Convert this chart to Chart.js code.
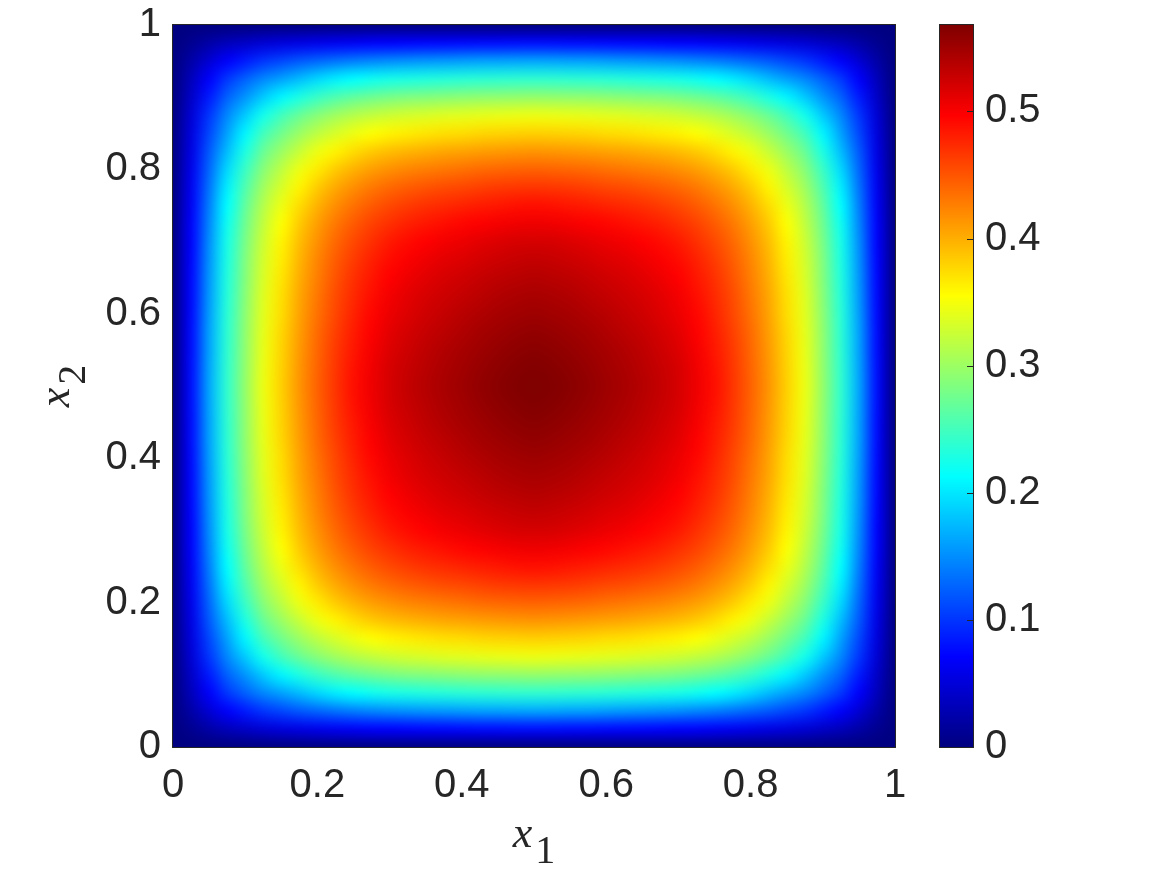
<!DOCTYPE html>
<html><head><meta charset="utf-8">
<script src="https://cdn.jsdelivr.net/npm/chart.js@4.4.1/dist/chart.umd.min.js"></script>
<style>html,body{margin:0;padding:0;background:#fff;overflow:hidden}#wrap{width:1167px;height:875px}</style>
</head><body><div id="wrap"><canvas id="c" width="1167" height="875"></canvas></div>
<script>
// grid coordinates (x1 columns, x2 rows)
const gridX = [0,.025,.05,.075,.1,.125,.15,.175,.2,.225,.25,.275,.3,.325,.35,.375,.4,.425,.45,.475,.5,.525,.55,.575,.6,.625,.65,.675,.7,.725,.75,.775,.8,.825,.85,.875,.9,.925,.95,.975,1];
const gridY = [0,.025,.05,.075,.1,.125,.15,.175,.2,.225,.25,.275,.3,.325,.35,.375,.4,.425,.45,.475,.5,.525,.55,.575,.6,.625,.65,.675,.7,.725,.75,.775,.8,.825,.85,.875,.9,.925,.95,.975,1];
// field values; values[j][i] at (gridX[i], gridY[j])
const values = [
[0,0,0,0,0,0,0,0,0,0,0,0,0,0,0,0,0,0,0,0,0,0,0,0,0,0,0,0,0,0,0,0,0,0,0,0,0,0,0,0,0],
[0,.010,.022,.033,.040,.047,.052,.056,.060,.063,.066,.069,.070,.072,.073,.074,.075,.076,.076,.077,.077,.077,.076,.076,.075,.074,.073,.072,.070,.069,.066,.063,.060,.056,.052,.047,.040,.033,.022,.010,0],
[0,.022,.047,.069,.085,.100,.110,.120,.128,.135,.141,.146,.150,.153,.155,.157,.159,.161,.162,.163,.164,.163,.162,.161,.159,.157,.155,.153,.150,.146,.141,.135,.128,.120,.110,.100,.085,.069,.047,.022,0],
[0,.033,.069,.101,.125,.146,.161,.176,.192,.204,.213,.220,.225,.228,.231,.233,.235,.237,.238,.239,.240,.239,.238,.237,.235,.233,.231,.228,.225,.220,.213,.204,.192,.176,.161,.146,.125,.101,.069,.033,0],
[0,.040,.085,.125,.154,.184,.208,.228,.245,.257,.267,.274,.280,.284,.286,.289,.291,.293,.294,.295,.296,.295,.294,.293,.291,.289,.286,.284,.280,.274,.267,.257,.245,.228,.208,.184,.154,.125,.085,.040,0],
[0,.047,.100,.146,.184,.223,.249,.271,.288,.302,.313,.321,.327,.331,.334,.337,.339,.341,.343,.344,.345,.344,.343,.341,.339,.337,.334,.331,.327,.321,.313,.302,.288,.271,.249,.223,.184,.146,.100,.047,0],
[0,.052,.110,.161,.208,.249,.276,.299,.318,.333,.345,.354,.361,.365,.369,.372,.374,.377,.379,.380,.381,.380,.379,.377,.374,.372,.369,.365,.361,.354,.345,.333,.318,.299,.276,.249,.208,.161,.110,.052,0],
[0,.056,.120,.176,.228,.271,.299,.324,.345,.361,.374,.384,.391,.396,.400,.404,.406,.409,.411,.413,.414,.413,.411,.409,.406,.404,.400,.396,.391,.384,.374,.361,.345,.324,.299,.271,.228,.176,.120,.056,0],
[0,.060,.128,.192,.245,.288,.318,.345,.366,.384,.398,.409,.417,.423,.427,.431,.434,.438,.440,.442,.443,.442,.440,.438,.434,.431,.427,.423,.417,.409,.398,.384,.366,.345,.318,.288,.245,.192,.128,.060,0],
[0,.063,.135,.204,.257,.302,.333,.361,.384,.403,.418,.430,.439,.446,.451,.455,.458,.462,.465,.467,.468,.467,.465,.462,.458,.455,.451,.446,.439,.430,.418,.403,.384,.361,.333,.302,.257,.204,.135,.063,0],
[0,.066,.141,.213,.267,.313,.345,.374,.398,.418,.434,.447,.457,.464,.470,.474,.478,.482,.485,.488,.489,.488,.485,.482,.478,.474,.470,.464,.457,.447,.434,.418,.398,.374,.345,.313,.267,.213,.141,.066,0],
[0,.069,.146,.220,.274,.321,.354,.384,.409,.430,.447,.461,.471,.479,.485,.490,.494,.498,.502,.505,.506,.505,.502,.498,.494,.490,.485,.479,.471,.461,.447,.430,.409,.384,.354,.321,.274,.220,.146,.069,0],
[0,.070,.150,.225,.280,.327,.361,.391,.417,.439,.457,.471,.483,.491,.497,.503,.507,.512,.516,.519,.520,.519,.516,.512,.507,.503,.497,.491,.483,.471,.457,.439,.417,.391,.361,.327,.280,.225,.150,.070,0],
[0,.072,.153,.228,.284,.331,.365,.396,.423,.446,.464,.479,.491,.499,.506,.512,.516,.521,.525,.528,.530,.528,.525,.521,.516,.512,.506,.499,.491,.479,.464,.446,.423,.396,.365,.331,.284,.228,.153,.072,0],
[0,.073,.155,.231,.286,.334,.369,.400,.427,.451,.470,.485,.497,.506,.513,.519,.524,.529,.533,.536,.538,.536,.533,.529,.524,.519,.513,.506,.497,.485,.470,.451,.427,.400,.369,.334,.286,.231,.155,.073,0],
[0,.074,.157,.233,.289,.337,.372,.404,.431,.455,.474,.490,.503,.512,.519,.525,.530,.535,.540,.543,.545,.543,.540,.535,.530,.525,.519,.512,.503,.490,.474,.455,.431,.404,.372,.337,.289,.233,.157,.074,0],
[0,.075,.159,.235,.291,.339,.374,.406,.434,.458,.478,.494,.507,.516,.524,.530,.536,.541,.546,.549,.551,.549,.546,.541,.536,.530,.524,.516,.507,.494,.478,.458,.434,.406,.374,.339,.291,.235,.159,.075,0],
[0,.076,.161,.237,.293,.341,.377,.409,.438,.462,.482,.498,.512,.521,.529,.535,.541,.547,.551,.555,.557,.555,.551,.547,.541,.535,.529,.521,.512,.498,.482,.462,.438,.409,.377,.341,.293,.237,.161,.076,0],
[0,.076,.162,.238,.294,.343,.379,.411,.440,.465,.485,.502,.516,.525,.533,.540,.546,.551,.556,.560,.562,.560,.556,.551,.546,.540,.533,.525,.516,.502,.485,.465,.440,.411,.379,.343,.294,.238,.162,.076,0],
[0,.077,.163,.239,.295,.344,.380,.413,.442,.467,.488,.505,.519,.528,.536,.543,.549,.555,.560,.564,.566,.564,.560,.555,.549,.543,.536,.528,.519,.505,.488,.467,.442,.413,.380,.344,.295,.239,.163,.077,0],
[0,.077,.164,.240,.296,.345,.381,.414,.443,.468,.489,.506,.520,.530,.538,.545,.551,.557,.562,.566,.568,.566,.562,.557,.551,.545,.538,.530,.520,.506,.489,.468,.443,.414,.381,.345,.296,.240,.164,.077,0],
[0,.077,.163,.239,.295,.344,.380,.413,.442,.467,.488,.505,.519,.528,.536,.543,.549,.555,.560,.564,.566,.564,.560,.555,.549,.543,.536,.528,.519,.505,.488,.467,.442,.413,.380,.344,.295,.239,.163,.077,0],
[0,.076,.162,.238,.294,.343,.379,.411,.440,.465,.485,.502,.516,.525,.533,.540,.546,.551,.556,.560,.562,.560,.556,.551,.546,.540,.533,.525,.516,.502,.485,.465,.440,.411,.379,.343,.294,.238,.162,.076,0],
[0,.076,.161,.237,.293,.341,.377,.409,.438,.462,.482,.498,.512,.521,.529,.535,.541,.547,.551,.555,.557,.555,.551,.547,.541,.535,.529,.521,.512,.498,.482,.462,.438,.409,.377,.341,.293,.237,.161,.076,0],
[0,.075,.159,.235,.291,.339,.374,.406,.434,.458,.478,.494,.507,.516,.524,.530,.536,.541,.546,.549,.551,.549,.546,.541,.536,.530,.524,.516,.507,.494,.478,.458,.434,.406,.374,.339,.291,.235,.159,.075,0],
[0,.074,.157,.233,.289,.337,.372,.404,.431,.455,.474,.490,.503,.512,.519,.525,.530,.535,.540,.543,.545,.543,.540,.535,.530,.525,.519,.512,.503,.490,.474,.455,.431,.404,.372,.337,.289,.233,.157,.074,0],
[0,.073,.155,.231,.286,.334,.369,.400,.427,.451,.470,.485,.497,.506,.513,.519,.524,.529,.533,.536,.538,.536,.533,.529,.524,.519,.513,.506,.497,.485,.470,.451,.427,.400,.369,.334,.286,.231,.155,.073,0],
[0,.072,.153,.228,.284,.331,.365,.396,.423,.446,.464,.479,.491,.499,.506,.512,.516,.521,.525,.528,.530,.528,.525,.521,.516,.512,.506,.499,.491,.479,.464,.446,.423,.396,.365,.331,.284,.228,.153,.072,0],
[0,.070,.150,.225,.280,.327,.361,.391,.417,.439,.457,.471,.483,.491,.497,.503,.507,.512,.516,.519,.520,.519,.516,.512,.507,.503,.497,.491,.483,.471,.457,.439,.417,.391,.361,.327,.280,.225,.150,.070,0],
[0,.069,.146,.220,.274,.321,.354,.384,.409,.430,.447,.461,.471,.479,.485,.490,.494,.498,.502,.505,.506,.505,.502,.498,.494,.490,.485,.479,.471,.461,.447,.430,.409,.384,.354,.321,.274,.220,.146,.069,0],
[0,.066,.141,.213,.267,.313,.345,.374,.398,.418,.434,.447,.457,.464,.470,.474,.478,.482,.485,.488,.489,.488,.485,.482,.478,.474,.470,.464,.457,.447,.434,.418,.398,.374,.345,.313,.267,.213,.141,.066,0],
[0,.063,.135,.204,.257,.302,.333,.361,.384,.403,.418,.430,.439,.446,.451,.455,.458,.462,.465,.467,.468,.467,.465,.462,.458,.455,.451,.446,.439,.430,.418,.403,.384,.361,.333,.302,.257,.204,.135,.063,0],
[0,.060,.128,.192,.245,.288,.318,.345,.366,.384,.398,.409,.417,.423,.427,.431,.434,.438,.440,.442,.443,.442,.440,.438,.434,.431,.427,.423,.417,.409,.398,.384,.366,.345,.318,.288,.245,.192,.128,.060,0],
[0,.056,.120,.176,.228,.271,.299,.324,.345,.361,.374,.384,.391,.396,.400,.404,.406,.409,.411,.413,.414,.413,.411,.409,.406,.404,.400,.396,.391,.384,.374,.361,.345,.324,.299,.271,.228,.176,.120,.056,0],
[0,.052,.110,.161,.208,.249,.276,.299,.318,.333,.345,.354,.361,.365,.369,.372,.374,.377,.379,.380,.381,.380,.379,.377,.374,.372,.369,.365,.361,.354,.345,.333,.318,.299,.276,.249,.208,.161,.110,.052,0],
[0,.047,.100,.146,.184,.223,.249,.271,.288,.302,.313,.321,.327,.331,.334,.337,.339,.341,.343,.344,.345,.344,.343,.341,.339,.337,.334,.331,.327,.321,.313,.302,.288,.271,.249,.223,.184,.146,.100,.047,0],
[0,.040,.085,.125,.154,.184,.208,.228,.245,.257,.267,.274,.280,.284,.286,.289,.291,.293,.294,.295,.296,.295,.294,.293,.291,.289,.286,.284,.280,.274,.267,.257,.245,.228,.208,.184,.154,.125,.085,.040,0],
[0,.033,.069,.101,.125,.146,.161,.176,.192,.204,.213,.220,.225,.228,.231,.233,.235,.237,.238,.239,.240,.239,.238,.237,.235,.233,.231,.228,.225,.220,.213,.204,.192,.176,.161,.146,.125,.101,.069,.033,0],
[0,.022,.047,.069,.085,.100,.110,.120,.128,.135,.141,.146,.150,.153,.155,.157,.159,.161,.162,.163,.164,.163,.162,.161,.159,.157,.155,.153,.150,.146,.141,.135,.128,.120,.110,.100,.085,.069,.047,.022,0],
[0,.010,.022,.033,.040,.047,.052,.056,.060,.063,.066,.069,.070,.072,.073,.074,.075,.076,.076,.077,.077,.077,.076,.076,.075,.074,.073,.072,.070,.069,.066,.063,.060,.056,.052,.047,.040,.033,.022,.010,0],
[0,0,0,0,0,0,0,0,0,0,0,0,0,0,0,0,0,0,0,0,0,0,0,0,0,0,0,0,0,0,0,0,0,0,0,0,0,0,0,0,0]
];
const xTicks = [0, 0.2, 0.4, 0.6, 0.8, 1];
const yTicks = [0, 0.2, 0.4, 0.6, 0.8, 1];
const cbTicks = [0, 0.1, 0.2, 0.3, 0.4, 0.5];
const cRange = [0, 0.568];

function jet(t){t=Math.max(0,Math.min(1,t));const c=v=>Math.round(255*Math.max(0,Math.min(1,v)));return [c(1.5-Math.abs(4*t-3)),c(1.5-Math.abs(4*t-2)),c(1.5-Math.abs(4*t-1))];}
const TXT='#262626';
const heat={id:'heat',beforeDatasetsDraw(chart){
  const {ctx,chartArea:a,scales:{x,y}}=chart;
  const nx=gridX.length, ny=gridY.length;
  const off=document.createElement('canvas');off.width=nx;off.height=ny;
  const oc=off.getContext('2d');const img=oc.createImageData(nx,ny);
  for(let j=0;j<ny;j++)for(let i=0;i<nx;i++){const col=jet((values[j][i]-cRange[0])/(cRange[1]-cRange[0]));const p=((ny-1-j)*nx+i)*4;img.data[p]=col[0];img.data[p+1]=col[1];img.data[p+2]=col[2];img.data[p+3]=255;}
  oc.putImageData(img,0,0);
  const dx=gridX[1]-gridX[0], dy=gridY[1]-gridY[0];
  const x0=x.getPixelForValue(gridX[0]-dx/2), x1=x.getPixelForValue(gridX[nx-1]+dx/2);
  const yT=y.getPixelForValue(gridY[ny-1]+dy/2), yB=y.getPixelForValue(gridY[0]-dy/2);
  ctx.save();ctx.beginPath();ctx.rect(a.left,a.top,a.right-a.left,a.bottom-a.top);ctx.clip();
  ctx.imageSmoothingEnabled=true;ctx.imageSmoothingQuality='high';
  ctx.drawImage(off,x0,yT,x1-x0,yB-yT);ctx.restore();
  ctx.save();ctx.strokeStyle=TXT;ctx.lineWidth=1;ctx.strokeRect(a.left-0.5,a.top-0.5,a.right-a.left+1,a.bottom-a.top+1);ctx.restore();
}};
const cbar={id:'cbar',afterDraw(chart){
  const {ctx,chartArea:a,scales:{cb}}=chart;
  const xl=a.right+45, w=33;
  ctx.save();
  for(let py=Math.floor(cb.top);py<Math.ceil(cb.bottom);py++){const v=cb.getValueForPixel(py+0.5);const col=jet((v-cRange[0])/(cRange[1]-cRange[0]));ctx.fillStyle=`rgb(${col[0]},${col[1]},${col[2]})`;ctx.fillRect(xl,py,w,1);}
  ctx.strokeStyle=TXT;ctx.lineWidth=1;ctx.strokeRect(xl-0.5,cb.top-0.5,w+1,cb.bottom-cb.top+1);
  ctx.beginPath();cbTicks.forEach(v=>{const py=Math.round(cb.getPixelForValue(v))+0.5;ctx.moveTo(xl+w-6,py);ctx.lineTo(xl+w,py);});ctx.stroke();
  ctx.restore();
}};
function drawSub(ctx,base,sub,cx,cy,rot){
  ctx.save();ctx.translate(cx,cy);ctx.rotate(rot);ctx.fillStyle=TXT;
  ctx.font='italic 44px "Liberation Serif", "DejaVu Serif", serif';const w1=ctx.measureText(base).width;
  ctx.font='40px "Liberation Serif", "DejaVu Serif", serif';const w2=ctx.measureText(sub).width;
  const gap=3;const tot=w1+gap+w2;ctx.textBaseline='alphabetic';
  ctx.font='italic 44px "Liberation Serif", "DejaVu Serif", serif';ctx.fillText(base,-tot/2,0);
  ctx.font='40px "Liberation Serif", "DejaVu Serif", serif';ctx.fillText(sub,-tot/2+w1+gap,16);
  ctx.restore();
}
const titles={id:'titles',afterDraw(chart){
  const {ctx,chartArea:a}=chart;
  drawSub(ctx,'x','1',(a.left+a.right)/2,847,0);
  drawSub(ctx,'x','2',69,(a.top+a.bottom)/2,-Math.PI/2);
}};
const tickFont={family:'"Liberation Sans", Arial, Helvetica, sans-serif',size:40};
const fmt=v=>String(Math.round(v*100)/100);
const noPad=s=>{s.paddingTop=0;s.paddingBottom=0;s.paddingLeft=0;s.paddingRight=0;};
new Chart(document.getElementById('c'),{
  type:'scatter',
  data:{datasets:[{data:[],pointRadius:0}]},
  options:{responsive:false,animation:false,devicePixelRatio:1,
    layout:{padding:{top:25,left:0,right:0,bottom:0}},
    plugins:{legend:{display:false},tooltip:{enabled:false}},
    scales:{
      x:{type:'linear',position:'bottom',min:0,max:1,grid:{display:false,drawTicks:false},border:{display:false},
        afterBuildTicks(s){s.ticks=xTicks.map(v=>({value:v}));},
        ticks:{font:tickFont,color:TXT,padding:15,maxRotation:0,callback:fmt},
        afterFit(s){s.height=128;noPad(s);}},
      y:{type:'linear',position:'left',min:0,max:1,grid:{display:false,drawTicks:false},border:{display:false},
        afterBuildTicks(s){s.ticks=yTicks.map(v=>({value:v}));},
        ticks:{font:tickFont,color:TXT,padding:12,callback:fmt},
        afterFit(s){s.width=173;noPad(s);}},
      cb:{type:'linear',axis:'y',position:'right',min:cRange[0],max:cRange[1],grid:{display:false,drawTicks:false},border:{display:false},
        afterBuildTicks(s){s.ticks=cbTicks.map(v=>({value:v}));},
        ticks:{font:tickFont,color:TXT,padding:90,callback:fmt},
        afterFit(s){s.width=272;noPad(s);}}
    }
  },
  plugins:[heat,cbar,titles]
});
</script></body></html>
